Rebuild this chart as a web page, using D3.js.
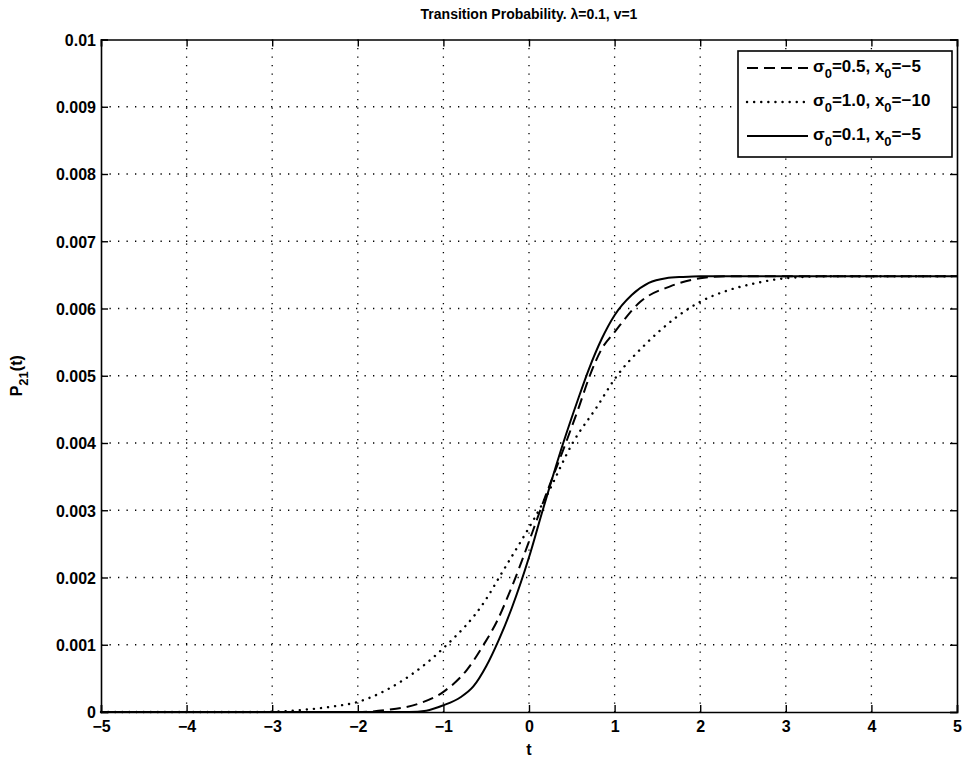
<!DOCTYPE html>
<html>
<head>
<meta charset="utf-8">
<script src="https://cdn.jsdelivr.net/npm/d3@7"></script>
<style>
body { margin: 0; background: #fff; }
text { font-family: "Liberation Sans", Arial, sans-serif; }
</style>
</head>
<body>
<div id="chart"></div>
<script>
var width = 963
var height = 761
var padding = { top: 39.5, right: 6, bottom: 49, left: 101 };

// values
var xTicks = [-5, -4, -3, -2, -1, 0, 1, 2, 3, 4, 5];
var yTicks = [0, 0.001, 0.002, 0.003, 0.004, 0.005, 0.006, 0.007, 0.008, 0.009, 0.01];

// sigma0=0.5, x0=-5 (dashed)
var dashedT = [-5, -2.0, -1.66, -1.3, -1.0, -0.73, -0.53, -0.37, -0.23, 0.05, 0.16, 0.43, 0.59, 0.71, 0.85, 1.0, 1.3, 1.65, 2.0, 2.3, 5];
var dashedP = [0, 0, 0.00003, 0.00012, 0.0003, 0.00062, 0.001, 0.00136, 0.00177, 0.00271, 0.0031, 0.004, 0.00456, 0.005, 0.0054, 0.00565, 0.0061, 0.00633, 0.00645, 0.00648, 0.00648];

// sigma0=1.0, x0=-10 (dotted)
var dottedT = [-5, -3.2, -2.66, -2.3, -2.0, -1.5, -1.0, -0.51, -0.34, 0.2, 0.51, 0.8, 1.0, 1.37, 1.7, 2.0, 2.3, 2.59, 3.0, 3.5, 5];
var dottedP = [0, 0, 0.00003, 0.00008, 0.00015, 0.00045, 0.00095, 0.00166, 0.00202, 0.0032, 0.004, 0.00455, 0.00495, 0.00548, 0.00585, 0.0061, 0.00626, 0.00636, 0.00645, 0.00648, 0.00648];

// sigma0=0.1, x0=-5 (solid)
var solidT = [-5, -1.4, -1.2, -1.0, -0.8, -0.65, -0.5, -0.35, -0.2, 0, 0.16, 0.4, 0.57, 0.7, 0.85, 1.0, 1.2, 1.4, 1.6, 1.8, 2.0, 5];
var solidP = [0, 0, 0.00002, 0.0001, 0.00022, 0.00038, 0.00068, 0.00108, 0.00155, 0.0023, 0.003, 0.004, 0.00464, 0.0051, 0.00555, 0.0059, 0.0062, 0.00638, 0.00645, 0.00647, 0.00648, 0.00648];

var legendSigma = ["0.5", "1.0", "0.1"];
var legendX0 = ["\u22125", "\u221210", "\u22125"];

var chartWidth = width - padding.left - padding.right;
var chartHeight = height - padding.top - padding.bottom;

var svg = d3.select('#chart')
    .append("svg")
    .attr('width', width)
    .attr('height', height);

var g = svg.append("g")
    .attr("transform", "translate(" + padding.left + "," + padding.top + ")");

var xScale = d3.scaleLinear().domain([-5, 5]).range([0, chartWidth]);
var yScale = d3.scaleLinear().domain([0, 0.01]).range([chartHeight, 0]);

// dotted grid
g.selectAll(".vgrid")
    .data(xTicks.slice(1, -1))
    .enter().append("line")
    .attr("x1", function(d) { return xScale(d); })
    .attr("x2", function(d) { return xScale(d); })
    .attr("y1", 0).attr("y2", chartHeight)
    .attr("stroke", "#000").attr("stroke-width", 1.3)
    .attr("stroke-dasharray", "1.3,7.2");
g.selectAll(".hgrid")
    .data(yTicks.slice(1, -1))
    .enter().append("line")
    .attr("y1", function(d) { return yScale(d); })
    .attr("y2", function(d) { return yScale(d); })
    .attr("x1", 0).attr("x2", chartWidth)
    .attr("stroke", "#000").attr("stroke-width", 1.3)
    .attr("stroke-dasharray", "1.3,7.2");

// axes, ticks pointing in
var fmtY = function(d) { return d === 0 ? "0" : d3.format(".3~f")(d); };
var xAxis = g.append("g").attr("transform", "translate(0," + chartHeight + ")")
    .call(d3.axisBottom(xScale).tickValues(xTicks).tickSize(-7).tickPadding(9));
var yAxis = g.append("g")
    .call(d3.axisLeft(yScale).tickValues(yTicks).tickFormat(fmtY).tickSize(-7).tickPadding(5));
var topAxis = g.append("g")
    .call(d3.axisTop(xScale).tickValues(xTicks).tickSize(-7).tickFormat(""));
var rightAxis = g.append("g").attr("transform", "translate(" + chartWidth + ",0)")
    .call(d3.axisRight(yScale).tickValues(yTicks).tickSize(-7).tickFormat(""));

[xAxis, yAxis, topAxis, rightAxis].forEach(function(a) {
    a.select(".domain").attr("stroke", "#000").attr("stroke-width", 1.6);
    a.selectAll(".tick line").attr("stroke", "#000").attr("stroke-width", 1.4);
    a.selectAll("text").attr("fill", "#000")
        .style("font-size", "16px").style("font-weight", "bold")
        .style("font-family", "'Liberation Sans', Arial, sans-serif");
});
yAxis.selectAll("text").attr("dy", "0.36em");

// curves
var line = d3.line()
    .x(function(d) { return xScale(d[0]); })
    .y(function(d) { return yScale(d[1]); })
    .curve(d3.curveMonotoneX);

function pairs(ts, ps) { return ts.map(function(t, i) { return [t, ps[i]]; }); }

var styles = [
    { dash: "11,6", cap: "butt", w: 2 },
    { dash: "0.1,7", cap: "round", w: 2.4 },
    { dash: null, cap: "butt", w: 2 }
];
var curves = [pairs(dashedT, dashedP), pairs(dottedT, dottedP), pairs(solidT, solidP)];

curves.forEach(function(c, i) {
    g.append("path")
        .datum(c)
        .attr("d", line)
        .attr("fill", "none")
        .attr("stroke", "#000")
        .attr("stroke-width", styles[i].w)
        .attr("stroke-linecap", styles[i].cap)
        .attr("stroke-dasharray", styles[i].dash);
});

// legend
var lx = 738 - padding.left, ly = 51 - padding.top;
var legend = g.append("g").attr("transform", "translate(" + lx + "," + ly + ")");
legend.append("rect")
    .attr("width", 214).attr("height", 106)
    .attr("fill", "#fff").attr("stroke", "#000").attr("stroke-width", 1.6);

legendSigma.forEach(function(s, i) {
    var y = 17 + i * 34;
    legend.append("line")
        .attr("x1", 9).attr("x2", 70).attr("y1", y).attr("y2", y)
        .attr("stroke", "#000").attr("stroke-width", styles[i].w)
        .attr("stroke-linecap", styles[i].cap)
        .attr("stroke-dasharray", styles[i].dash);
    var t = legend.append("text")
        .attr("x", 75).attr("y", y + 4)
        .style("font-size", "17px").style("font-weight", "bold");
    t.append("tspan").text("\u03c3");
    t.append("tspan").attr("dy", 6).style("font-size", "13px").text("0");
    t.append("tspan").attr("dy", -6).text("=" + s + ", x");
    t.append("tspan").attr("dy", 6).style("font-size", "13px").text("0");
    t.append("tspan").attr("dy", -6).text("=" + legendX0[i]);
});

// title and axis labels
svg.append("text")
    .attr("x", padding.left + chartWidth / 2).attr("y", 19)
    .attr("text-anchor", "middle")
    .style("font-size", "14px").style("font-weight", "bold")
    .text("Transition Probability. \u03bb=0.1, v=1");

svg.append("text")
    .attr("x", padding.left + chartWidth / 2).attr("y", 755)
    .attr("text-anchor", "middle")
    .style("font-size", "16px").style("font-weight", "bold")
    .text("t");

var yl = svg.append("text")
    .attr("transform", "translate(22," + (padding.top + chartHeight / 2) + ") rotate(-90)")
    .attr("text-anchor", "middle")
    .style("font-size", "16px").style("font-weight", "bold");
yl.append("tspan").text("P");
yl.append("tspan").attr("dy", 6).style("font-size", "13px").text("21");
yl.append("tspan").attr("dy", -6).text("(t)");
</script>
</body>
</html>
